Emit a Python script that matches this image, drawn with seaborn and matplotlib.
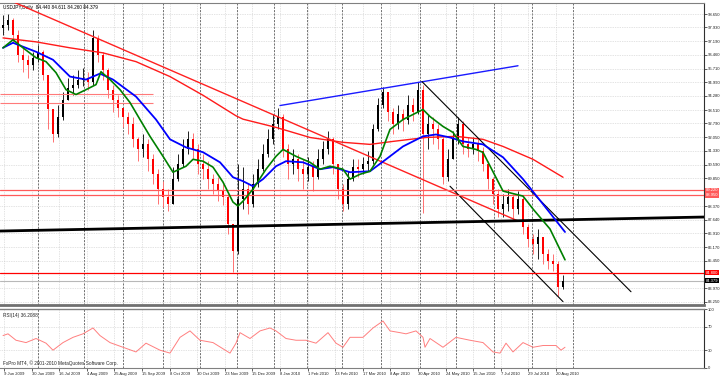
import numpy as np
import matplotlib
matplotlib.use("Agg")
import matplotlib.pyplot as plt
import matplotlib.transforms as mtransforms
import seaborn as sns

# USDJPY daily, one candle per ~2.8 trading days
FIRST_OPEN = 97.90
CLOSE = [98.07, 98.33, 97.53, 96.47, 96.20, 95.94, 96.31, 96.63, 95.40, 93.54,
         92.20, 93.11, 94.07, 94.71, 94.87, 95.14, 95.24, 95.03, 97.37, 96.47,
         95.67, 94.60, 94.07, 93.64, 93.11, 92.74, 91.94, 91.40, 91.67, 90.87,
         90.07, 89.27, 88.85, 88.47, 89.81, 90.61, 91.40, 91.94, 91.40, 90.61,
         90.34, 89.81, 89.54, 89.17, 88.85, 87.41, 85.97, 88.74, 89.27, 88.47,
         89.54, 90.34, 91.14, 91.94, 92.74, 93.11, 91.40, 90.61, 90.87, 90.34,
         90.07, 90.45, 89.91, 90.87, 91.40, 91.94, 90.61, 89.27, 88.47, 89.81,
         90.45, 90.34, 90.61, 90.77, 92.47, 93.80, 94.50, 93.43, 92.74, 93.27,
         93.00, 93.80, 93.43, 94.60, 92.20, 92.74, 92.47, 91.94, 89.91, 90.87,
         91.94, 92.74, 91.67, 91.40, 91.67, 91.30, 90.61, 89.81, 89.01, 88.21,
         88.47, 88.85, 88.21, 88.74, 87.25, 86.61, 86.34, 86.71, 85.81, 85.44,
         85.28, 84.05, 84.38]
HIGH = [98.60, 98.65, 98.44, 97.80, 96.84, 96.47, 96.63, 97.00, 96.73, 95.40,
        93.54, 93.80, 94.50, 95.24, 95.40, 95.67, 95.78, 95.56, 97.80, 97.53,
        96.63, 95.78, 94.87, 94.34, 93.64, 93.43, 93.11, 92.04, 92.20, 91.94,
        91.14, 90.34, 89.70, 89.27, 90.45, 91.14, 91.94, 92.36, 92.26, 91.67,
        91.14, 90.77, 90.07, 89.91, 89.54, 89.01, 87.41, 90.61, 90.45, 89.54,
        90.07, 90.87, 91.67, 92.47, 93.27, 93.64, 93.27, 91.67, 91.40, 91.14,
        90.87, 90.98, 90.77, 91.40, 91.83, 92.36, 92.04, 90.61, 89.54, 90.23,
        90.87, 90.87, 90.98, 91.30, 92.74, 94.18, 94.76, 94.50, 93.64, 93.80,
        93.54, 94.34, 94.18, 95.03, 94.87, 93.27, 93.11, 92.74, 92.04, 91.40,
        92.36, 93.11, 92.90, 92.04, 92.04, 91.94, 91.51, 90.77, 89.91, 89.27,
        89.01, 89.27, 89.01, 89.17, 88.85, 87.41, 86.87, 87.14, 86.61, 86.07,
        85.81, 85.44, 84.69]
LOW = [97.53, 97.80, 97.16, 96.10, 95.56, 95.24, 95.67, 96.10, 95.14, 92.47,
       91.78, 92.04, 93.00, 94.07, 94.34, 94.71, 94.82, 94.60, 94.87, 96.10,
       95.14, 94.18, 93.43, 93.11, 92.58, 92.20, 91.51, 90.77, 90.98, 90.23,
       89.54, 88.47, 88.31, 88.10, 88.47, 89.70, 90.45, 91.14, 90.87, 90.07,
       89.81, 89.27, 89.01, 88.63, 88.42, 86.87, 84.85, 85.81, 88.21, 87.94,
       88.31, 89.38, 90.23, 90.98, 91.67, 92.47, 90.98, 89.81, 90.07, 89.70,
       89.27, 89.70, 89.17, 89.81, 90.61, 91.14, 90.07, 88.74, 88.10, 88.21,
       89.70, 89.91, 90.07, 90.23, 90.61, 92.36, 93.64, 92.90, 92.20, 92.47,
       92.36, 92.74, 92.90, 93.27, 87.99, 91.40, 91.67, 91.40, 89.54, 89.70,
       90.87, 91.67, 91.14, 90.98, 91.14, 90.77, 90.23, 89.27, 88.47, 87.78,
       87.78, 88.10, 87.57, 87.94, 86.87, 86.18, 85.81, 85.54, 85.28, 85.01,
       84.90, 83.57, 83.94]

# moving averages (green short, blue medium, red long), x in candle units
GREEN_X = [0, 2, 4, 6.6, 8.6, 10.6, 12.6, 14.6, 16.6, 18.6, 19.6, 21.4, 23.4, 25.4,
           27.4, 29.4, 32, 34, 36.6, 38, 40, 42, 44, 46, 47, 48, 50, 52.6, 54.6,
           56, 58.6, 61.4, 63.4, 65.4, 68, 69.4, 71.4, 73.4, 75.4, 77.4, 80, 84,
           85.4, 88, 90, 92, 94.6, 96, 100, 104, 106, 109.4, 112.4]
GREEN_Y = [96.84, 97.27, 96.84, 96.31, 96.10, 95.51, 94.60, 94.34, 94.60, 94.87,
           95.56, 95.14, 94.60, 93.91, 93.00, 92.10, 91.03, 90.18, 90.50, 90.87,
           90.77, 90.45, 89.65, 88.58, 88.37, 88.63, 89.27, 90.34, 91.03, 91.40,
           91.03, 90.71, 90.34, 90.50, 90.34, 89.81, 90.07, 90.23, 91.03, 92.47,
           93.00, 93.54, 93.16, 92.63, 92.31, 91.56, 91.40, 91.24, 89.17, 88.90,
           88.21, 87.14, 85.49]
BLUE_X = [0, 2, 4, 6.6, 10, 13.4, 16.6, 19.4, 22, 26.6, 30.6, 33.4, 36.6, 40, 43.4,
          46, 48, 50, 52, 54.6, 56.6, 60, 63.4, 66, 69.4, 73.4, 76.6, 80, 84, 86.6,
          89.4, 92, 96, 100, 104, 108, 112.4]
BLUE_Y = [96.84, 97.11, 96.90, 96.63, 96.20, 95.30, 95.14, 95.46, 95.14, 94.23,
          93.00, 91.94, 91.51, 91.25, 90.71, 89.91, 89.70, 89.43, 89.81, 90.50,
          90.77, 90.71, 90.34, 90.45, 90.18, 90.23, 90.87, 91.56, 92.10, 92.20,
          92.04, 91.83, 91.67, 90.98, 89.81, 88.47, 86.98]
RED_MA_X = [0, 6.6, 13.4, 20, 26.6, 33.4, 40, 46.6, 48, 54.6, 61.4, 68, 73.4, 78,
            84.6, 90.6, 96, 100, 106, 112]
RED_MA_Y = [97.37, 97.16, 96.84, 96.57, 96.10, 95.30, 94.30, 93.20, 93.02, 92.58,
            92.04, 91.78, 91.67, 91.83, 92.04, 92.10, 91.94, 91.56, 90.87, 89.91]

# RSI(14)
RSI_X = [0, 1, 2.6, 4.6, 6.6, 8.6, 10, 12, 14, 16, 18, 19.4, 21.4, 24, 26.6, 28.6,
         31.4, 33.4, 35.4, 37.4, 39.4, 42, 45.4, 46.6, 47.4, 49.4, 51.4, 53.4,
         54.6, 56.6, 58.6, 60.6, 62.6, 65, 66.6, 68, 69.4, 72, 74, 76, 77.4, 79.4,
         80.6, 82.6, 84, 84.4, 85.4, 88, 90.6, 93.4, 96, 98, 99.4, 100.6, 102, 104,
         106, 108, 110.6, 111.6, 112.4]
RSI_Y = [55, 58, 47, 43, 50, 42, 30, 43, 52, 58, 68, 55, 43, 35, 27, 42, 30, 25,
         52, 63, 47, 43, 25, 42, 60, 50, 63, 68, 63, 50, 47, 47, 42, 60, 42, 35,
         52, 52, 68, 80, 63, 60, 58, 63, 52, 35, 50, 35, 52, 47, 43, 27, 25, 42,
         27, 43, 35, 38, 38, 30, 35]

# drawn objects: (x pair, price pair)
TREND_RED = ([1.6, 103.0], [99.35, 87.57])
SUPPORT = ([-0.6, 140.2], [87.03, 87.78])
BLUE_TOP = ([55.4, 103.0], [93.75, 95.88])
CHAN_UP = ([83.8, 125.6], [95.03, 83.78])
CHAN_LOW = ([89.4, 112.0], [89.43, 83.25])
LEVELS = [89.22, 88.95, 84.80]
LEVEL_COLORS = ["#ff5a5a", "#ff5a5a", "#ff0000"]
LEFT_LEVELS = [94.39, 93.86]
LAST_PRICE = 84.379

PRICE_TICKS = [98.650, 97.930, 97.190, 96.460, 95.710, 94.990, 94.280, 93.510,
               92.790, 92.050, 91.330, 90.590, 89.850, 88.370, 87.640, 86.910,
               86.170, 85.450, 83.970, 83.250]
DATE_LABELS = ["9 Jun 2009", "30 Jun 2009", "16 Jul 2009", "4 Aug 2009",
               "25 Aug 2009", "15 Sep 2009", "8 Oct 2009", "30 Oct 2009",
               "23 Nov 2009", "15 Dec 2009", "8 Jan 2010", "1 Feb 2010",
               "23 Feb 2010", "17 Mar 2010", "8 Apr 2010", "30 Apr 2010",
               "24 May 2010", "15 Jun 2010", "7 Jul 2010", "29 Jul 2010",
               "20 Aug 2010"]
MONTH_SEPS = [7, 16.2, 24, 32, 39.4, 46.8, 54.2, 60.8, 67.8, 75.6, 83.4, 90.6,
              98.2, 105.8, 114]

sns.set_theme(style="white")
plt.rcParams["font.family"] = ["Liberation Sans", "DejaVu Sans"]
FS = 3.0

W, H = 721, 378
fig = plt.figure(figsize=(W / 100, H / 100), dpi=100)
ax = fig.add_axes([0, 1 - 305 / H, 704 / W, 302 / H])
rax = fig.add_axes([0, 1 - 368 / H, 704 / W, 59 / H])

XMIN, XMAX = -0.6, 140.2
date_pos = 0.2 + np.arange(len(DATE_LABELS)) * 5.52

for a in (ax, rax):
    a.set_facecolor("white")
    a.set_xlim(XMIN, XMAX)
    for x in date_pos:
        a.axvline(x, color="#c8c8c8", lw=0.5, ls=(0, (1, 1.5)), zorder=0)
    for x in MONTH_SEPS:
        a.axvline(x, color="#5a5a5a", lw=0.6, ls=(0, (2.5, 1.5)), zorder=0)
    for s in a.spines.values():
        s.set_color("#808080")
        s.set_linewidth(0.8)
    a.spines["left"].set_visible(False)
    a.spines["right"].set_color("#303030")

ax.spines["bottom"].set_linewidth(2.0)
ax.spines["bottom"].set_color("#707070")
rax.spines["top"].set_linewidth(1.0)

# price grid
ax.set_ylim(83.07, 99.24)
for p in PRICE_TICKS:
    ax.axhline(p, color="#c8c8c8", lw=0.5, ls=(0, (1, 1.5)), zorder=0)

# candles
opens = np.array([FIRST_OPEN] + CLOSE[:-1])
closes = np.array(CLOSE)
highs = np.maximum(np.array(HIGH), np.maximum(opens, closes))
lows = np.minimum(np.array(LOW), np.minimum(opens, closes))
xs = np.arange(len(CLOSE))
up = closes >= opens
cols = np.where(up, "#000000", "#ff0000")
wick_cols = np.where(up, "#202020", "#ff7070")
ax.vlines(xs, lows, highs, colors=wick_cols, lw=0.7, zorder=2)
body = np.maximum(np.abs(closes - opens), 0.04)
ax.bar(xs, body, bottom=np.minimum(opens, closes), width=0.5, color=cols,
       linewidth=0, zorder=3)

# moving averages
sns.lineplot(x=RED_MA_X, y=RED_MA_Y, ax=ax, color="#ff1a1a", lw=1.0, zorder=4)
sns.lineplot(x=BLUE_X, y=BLUE_Y, ax=ax, color="#0000ff", lw=1.3, zorder=5)
sns.lineplot(x=GREEN_X, y=GREEN_Y, ax=ax, color="#008000", lw=1.2, zorder=6)

# drawn lines
ax.plot(*TREND_RED, color="#ff2020", lw=1.0, zorder=4)
ax.plot(*SUPPORT, color="#000000", lw=2.0, zorder=4)
ax.plot(*BLUE_TOP, color="#1a1aff", lw=1.0, zorder=4)
ax.plot(*CHAN_UP, color="#000000", lw=0.8, zorder=4)
ax.plot(*CHAN_LOW, color="#000000", lw=0.8, zorder=4)
ax.hlines(LEFT_LEVELS, XMIN, 30, color="#ff7a7a", lw=0.8, zorder=4)
for lv, c in zip(LEVELS, LEVEL_COLORS):
    ax.axhline(lv, color=c, lw=0.9, zorder=4)
ax.axhline(LAST_PRICE, color="#b8b8b8", lw=0.8, zorder=1)

# right price scale
ax.yaxis.tick_right()
ax.set_yticks(PRICE_TICKS)
ax.set_yticklabels([f"{p:.3f}" for p in PRICE_TICKS])
ax.tick_params(axis="y", labelsize=FS, length=2, width=0.5, pad=1.0,
               colors="#202020", right=True)
ax.set_xticks([])
trans = mtransforms.blended_transform_factory(ax.transAxes, ax.transData)
for lv, c in zip(LEVELS, LEVEL_COLORS):
    ax.text(1.003, lv, f"{lv:.3f}", transform=trans, fontsize=FS, color="white",
            va="center", ha="left", clip_on=False,
            bbox=dict(boxstyle="square,pad=0.15", fc=c, ec="none"))
ax.text(1.003, LAST_PRICE, f"{LAST_PRICE:.3f}", transform=trans, fontsize=FS,
        color="white", va="center", ha="left", clip_on=False,
        bbox=dict(boxstyle="square,pad=0.15", fc="#000000", ec="none"))
ax.text(0.004, 0.995, "USDJPY,Daily  84.440 84.611 84.260 84.379",
        transform=ax.transAxes, fontsize=3.4, va="top", ha="left", color="#000000")

# RSI panel
rax.set_ylim(-0.5, 100.5)
for lv in (30, 70):
    rax.axhline(lv, color="#c8c8c8", lw=0.5, ls=(0, (1, 1.5)), zorder=0)
sns.lineplot(x=RSI_X, y=RSI_Y, ax=rax, color="#ff7f7f", lw=0.7)
rax.yaxis.tick_right()
rax.set_yticks([0, 30, 70, 100])
rax.set_yticklabels(["0", "30", "70", "100"])
rax.tick_params(axis="y", labelsize=FS, length=2, width=0.5, pad=1.0,
                colors="#202020", right=True)
rax.set_xticks(date_pos)
rax.set_xticklabels(DATE_LABELS, ha="left")
rax.tick_params(axis="x", labelsize=FS, length=2, width=0.5, pad=1.0,
                colors="#202020", bottom=True)
rax.set_xlabel("")
rax.set_ylabel("")
ax.set_xlabel("")
ax.set_ylabel("")
rax.text(0.004, 0.93, "RSI(14) 36.2088", transform=rax.transAxes, fontsize=3.4,
         va="top", ha="left")
rax.text(0.004, 0.03, "FxPro MT4, \u00a9 2001-2010 MetaQuotes Software Corp.",
         transform=rax.transAxes, fontsize=3.4, va="bottom", ha="left")

fig.savefig("out.png", dpi=100, facecolor="white")
